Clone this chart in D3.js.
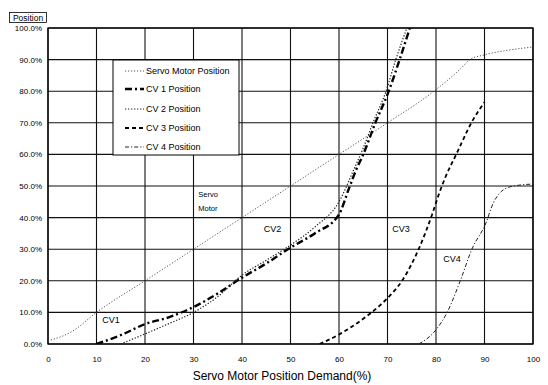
<!DOCTYPE html>
<html>
<head>
<meta charset="utf-8">
<script src="https://cdn.jsdelivr.net/npm/d3@7"></script>
<style>
  body { margin: 0; background: #fff; }
  text { font-family: "Liberation Sans", Arial, sans-serif; fill: #000; }
</style>
</head>
<body>
<svg id="chart" width="548" height="385"></svg>
<script>
// data
const xTicks = [0, 10, 20, 30, 40, 50, 60, 70, 80, 90, 100];
const yTicks = [0, 10, 20, 30, 40, 50, 60, 70, 80, 90, 100];

const servoX = [0, 5, 10, 20, 30, 40, 50, 60, 70, 80, 85, 87, 90, 95, 100];
const servoY = [1, 4, 10, 20, 30, 40, 50, 60, 70, 80.5, 87, 90, 91.5, 93, 94];

const cv1X = [10, 15, 20, 25, 30, 35, 40, 45, 50, 55, 60, 62, 63.5, 65, 67.5, 70, 72.5, 74.6];
const cv1Y = [0, 2.8, 6.3, 8.5, 11.7, 16, 21, 25.5, 30.5, 35, 41, 49, 55, 60, 70, 79, 90, 100];

const cv2X = [15, 20, 25, 30, 35, 40, 45, 50, 55, 60, 63, 65, 67, 69.7, 71.7, 74];
const cv2Y = [0, 3.2, 6.5, 10, 15, 21.8, 26.5, 31.3, 37, 45, 55, 62, 70, 80, 90, 100];

const cv3X = [56, 60, 65, 68.5, 70, 73, 76.7, 79.2, 80.5, 82, 84.3, 87.4, 90];
const cv3Y = [0, 3, 8, 12.3, 14.5, 20, 31, 41, 47, 53, 60.4, 70.3, 76.5];

const cv4X = [76.5, 80, 82.3, 85, 87.4, 90.3, 91.8, 93, 94.6, 97.3, 100];
const cv4Y = [0, 4.5, 10, 20, 30, 38.3, 44.6, 47.5, 49.4, 50.3, 50.6];

const seriesNames = ["Servo Motor Position", "CV 1 Position", "CV 2 Position", "CV 3 Position", "CV 4 Position"];

const svg = d3.select("#chart");
const width = +svg.attr("width");
const height = +svg.attr("height");

const x = d3.scaleLinear().domain([0, 100]).range([48, 533]);
const y = d3.scaleLinear().domain([0, 100]).range([344, 28]);

svg.append("rect").attr("width", width).attr("height", height).attr("fill", "#fff");

// grid
svg.append("g").selectAll("line")
  .data(xTicks)
  .enter().append("line")
  .attr("x1", d => x(d)).attr("x2", d => x(d))
  .attr("y1", y(0)).attr("y2", y(100))
  .attr("stroke", "#111").attr("stroke-width", 1.1);

svg.append("g").selectAll("line")
  .data(yTicks)
  .enter().append("line")
  .attr("x1", x(0)).attr("x2", x(100))
  .attr("y1", d => y(d)).attr("y2", d => y(d))
  .attr("stroke", "#111").attr("stroke-width", 1.1);

svg.append("rect")
  .attr("x", x(0)).attr("y", y(100))
  .attr("width", x(100) - x(0)).attr("height", y(0) - y(100))
  .attr("fill", "none").attr("stroke", "#000").attr("stroke-width", 1.3);

// axes labels (no tick marks in the original)
const xAxis = d3.axisBottom(x).tickValues(xTicks).tickSize(0).tickPadding(12).tickFormat(d3.format("d"));
svg.append("g")
  .attr("transform", `translate(0,${y(0)})`)
  .call(xAxis)
  .call(g => g.select(".domain").remove())
  .selectAll("text").style("font-size", "8px").attr("font-family", null);

const yAxis = d3.axisLeft(y).tickValues(yTicks).tickSize(0).tickPadding(6).tickFormat(d => d3.format(".1f")(d) + "%");
svg.append("g")
  .attr("transform", `translate(${x(0)},0)`)
  .call(yAxis)
  .call(g => g.select(".domain").remove())
  .selectAll("text").style("font-size", "8px").attr("font-family", null);

svg.append("text")
  .attr("x", 282).attr("y", 380)
  .attr("text-anchor", "middle")
  .style("font-size", "12px")
  .text("Servo Motor Position Demand(%)");

// "Position" boxed label
svg.append("rect").attr("x", 9.5).attr("y", 12.5).attr("width", 37).attr("height", 10)
  .attr("fill", "none").attr("stroke", "#000").attr("stroke-width", 0.8);
svg.append("text").attr("x", 28).attr("y", 20.5).attr("text-anchor", "middle")
  .style("font-size", "8.5px").text("Position");

// series
const series = [
  { name: seriesNames[0], xs: servoX, ys: servoY, dash: "1.2,1.8", w: 0.9, color: "#444" },
  { name: seriesNames[1], xs: cv1X, ys: cv1Y, dash: "7,3,2,3", w: 2.4, color: "#000" },
  { name: seriesNames[2], xs: cv2X, ys: cv2Y, dash: "1.3,1.7", w: 1.2, color: "#222" },
  { name: seriesNames[3], xs: cv3X, ys: cv3Y, dash: "4,3", w: 1.8, color: "#000" },
  { name: seriesNames[4], xs: cv4X, ys: cv4Y, dash: "4,2,1.2,2", w: 1.0, color: "#222" }
];

svg.append("clipPath").attr("id", "plotClip")
  .append("rect").attr("x", x(0)).attr("y", y(100))
  .attr("width", x(100) - x(0)).attr("height", y(0) - y(100));

const line = d3.line()
  .x(d => x(d[0]))
  .y(d => y(d[1]))
  .curve(d3.curveMonotoneX);

svg.append("g").attr("clip-path", "url(#plotClip)")
  .selectAll("path")
  .data(series)
  .enter().append("path")
  .attr("d", s => line(s.xs.map((v, i) => [v, s.ys[i]])))
  .attr("fill", "none")
  .attr("stroke", s => s.color)
  .attr("stroke-width", s => s.w)
  .attr("stroke-dasharray", s => s.dash);

// legend
const legend = svg.append("g").attr("transform", "translate(113,60)");
legend.append("rect").attr("width", 126).attr("height", 95)
  .attr("fill", "#fff").attr("stroke", "#000").attr("stroke-width", 1);

const rowY = [11, 29, 49, 68, 87];
const items = legend.selectAll("g.item")
  .data(series)
  .enter().append("g")
  .attr("class", "item")
  .attr("transform", (d, i) => `translate(0,${rowY[i]})`);

items.append("line")
  .attr("x1", 12).attr("x2", 31).attr("y1", 0).attr("y2", 0)
  .attr("stroke", d => d.color)
  .attr("stroke-width", d => d.w)
  .attr("stroke-dasharray", d => d.dash);

items.append("text")
  .attr("x", 33).attr("y", 3)
  .style("font-size", "9px")
  .text(d => d.name);

// curve annotations
const notes = [
  { t: "Servo", x: 31, y: 46.5 },
  { t: "Motor", x: 31, y: 42 },
  { t: "CV2", x: 44.5, y: 35.5 },
  { t: "CV3", x: 71, y: 35.5 },
  { t: "CV4", x: 81.5, y: 26 },
  { t: "CV1", x: 11.2, y: 6.5 }
];
svg.append("g").selectAll("text")
  .data(notes)
  .enter().append("text")
  .attr("x", d => x(d.x))
  .attr("y", d => y(d.y))
  .style("font-size", d => d.t === "Servo" || d.t === "Motor" ? "7.5px" : "9px")
  .text(d => d.t);
</script>
</body>
</html>
